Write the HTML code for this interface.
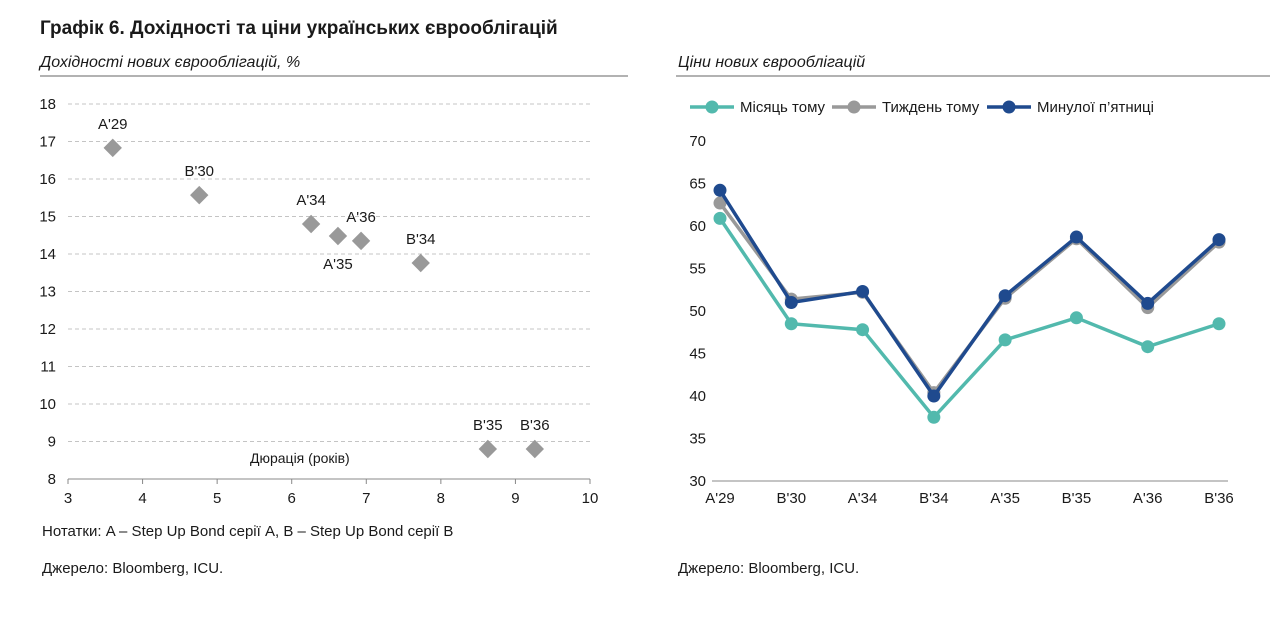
<!DOCTYPE html>
<html><head><meta charset="utf-8"><style>
body{margin:0;background:#fff;width:1280px;height:612px;overflow:hidden}
svg text{font-family:"Liberation Sans Narrow","Liberation Sans",sans-serif;fill:#1a1a1a}
</style></head><body>
<svg id="s" width="1280" height="612" xmlns="http://www.w3.org/2000/svg">
<text x="40" y="34" font-size="19" font-weight="bold">Графік 6. Дохідності та ціни українських єврооблігацій</text>
<text x="40" y="67" font-size="16" font-style="italic">Дохідності нових єврооблігацій, %</text>
<line x1="40" y1="76" x2="628" y2="76" stroke="#666" stroke-width="1"/>
<text x="678" y="67" font-size="16" font-style="italic">Ціни нових єврооблігацій</text>
<line x1="676" y1="76" x2="1270" y2="76" stroke="#666" stroke-width="1"/>
<g id="left"></g>
<g id="right"></g>
<text x="42" y="536" font-size="15">Нотатки: A – Step Up Bond серії A, B – Step Up Bond серії B</text>
<text x="42" y="573" font-size="15">Джерело: Bloomberg, ICU.</text>
<text x="678" y="573" font-size="15">Джерело: Bloomberg, ICU.</text>
</svg>
<script>
const bondNames=["A'29","B'30","A'34","A'35","A'36","B'34","B'35","B'36"];
const durations=[3.60,4.76,6.26,6.62,6.93,7.73,8.63,9.26];
const yields=[16.83,15.57,14.80,14.48,14.35,13.76,8.80,8.80];
const xTicks=[3,4,5,6,7,8,9,10];
const yTicks=[8,9,10,11,12,13,14,15,16,17,18];
const categories=["A'29","B'30","A'34","B'34","A'35","B'35","A'36","B'36"];
const monthAgo=[60.9,48.5,47.8,37.5,46.6,49.2,45.8,48.5];
const weekAgo=[62.7,51.4,52.2,40.4,51.5,58.5,50.4,58.1];
const lastFriday=[64.2,51.0,52.3,40.0,51.8,58.7,50.9,58.4];
const pTicks=[30,35,40,45,50,55,60,65,70];
const NS="http://www.w3.org/2000/svg";
function mk(p,t,a,txt){const e=document.createElementNS(NS,t);for(const k in a)e.setAttribute(k,a[k]);if(txt!=null)e.textContent=txt;p.appendChild(e);return e;}
const L=document.getElementById('left');
const lx=v=>68+(v-3)*(590-68)/7, ly=v=>479-(v-8)*(479-104)/10;
yTicks.forEach(t=>{if(t>8){const g=mk(L,'line',{x1:68,x2:590,y1:ly(t),y2:ly(t),stroke:'#c4c4c4','stroke-dasharray':'4,3'});}
const e=mk(L,'text',{x:56,y:ly(t)+5,'font-size':15,'text-anchor':'end'},t);});
mk(L,'line',{x1:68,x2:590,y1:479,y2:479,stroke:'#888'});
xTicks.forEach(t=>{mk(L,'line',{x1:lx(t),x2:lx(t),y1:479,y2:484,stroke:'#888'});const e=mk(L,'text',{x:lx(t),y:503,'font-size':15,'text-anchor':'middle'},t);});
const lab=mk(L,'text',{x:250,y:463,'font-size':14},'Дюрація (років)');
const off={"A'35":[0,28],"A'36":[0,-24]};
bondNames.forEach((n,i)=>{const x=lx(durations[i]),y=ly(yields[i]);
const d=mk(L,'rect',{x:x-6.5,y:y-6.5,width:13,height:13,fill:'#999',transform:`rotate(45 ${x} ${y})`});

const o=off[n]||[0,-24];const t=mk(L,'text',{x:x+o[0],y:y+o[1]+5,'font-size':15,'text-anchor':'middle'},n);
});
const R=document.getElementById('right');
const rx=i=>720+i*(1219-720)/7, ry=v=>481-(v-30)*(481-141)/40;
pTicks.forEach(t=>{const e=mk(R,'text',{x:706,y:ry(t)+5,'font-size':15,'text-anchor':'end'},t);});
mk(R,'line',{x1:712,x2:1228,y1:481,y2:481,stroke:'#888'});
categories.forEach((c,i)=>{const e=mk(R,'text',{x:rx(i),y:503,'font-size':15,'text-anchor':'middle'},c);});
const series=[[monthAgo,'#52b9ad','month-ago','Місяць тому',690],[weekAgo,'#999999','week-ago','Тиждень тому',832],[lastFriday,'#1f4a8e','last-friday','Минулої п\u2019ятниці',987]];
series.forEach(([d,c,nm,lbl,lxp])=>{
const p=mk(R,'polyline',{points:d.map((v,i)=>rx(i)+','+ry(v)).join(' '),fill:'none',stroke:c,'stroke-width':3.5});

d.forEach((v,i)=>{const q=mk(R,'circle',{cx:rx(i),cy:ry(v),r:6.5,fill:c});});
const g=mk(R,'g',{});
mk(g,'line',{x1:lxp,x2:lxp+44,y1:107,y2:107,stroke:c,'stroke-width':3.5});
mk(g,'circle',{cx:lxp+22,cy:107,r:6.5,fill:c});
mk(g,'text',{x:lxp+50,y:112,'font-size':15},lbl);
});
</script>
</body></html>
